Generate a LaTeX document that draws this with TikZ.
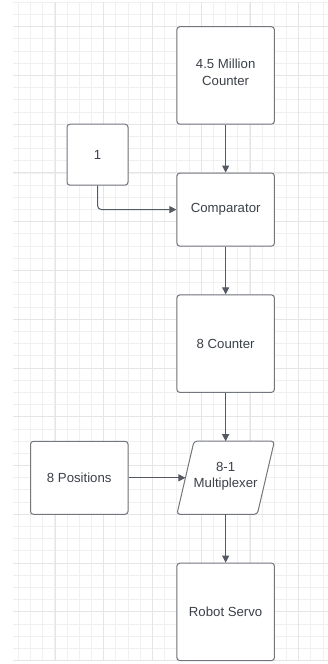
\documentclass[tikz,border=0pt]{standalone}
\usepackage{fontspec}
\setmainfont{Liberation Sans}
\usetikzlibrary{arrows.meta}

\definecolor{gridminor}{HTML}{F0F0F0}
\definecolor{gridmajor}{HTML}{E5E5E5}
\definecolor{boxline}{HTML}{72767D}
\definecolor{wire}{HTML}{555A62}
\definecolor{label}{HTML}{3B4048}

\tikzset{
  block/.style={draw=boxline, line width=1pt, rounded corners=3pt, fill=white,
    minimum width=97.5pt, minimum height=97.5pt, inner sep=2pt,
    align=center, text=label, font=\fontsize{13.2}{16.5}\selectfont},
  wirearrow/.style={draw=wire, line width=1pt,
    -{Triangle[length=7pt,width=7pt]}},
  gridline/.style={draw=gridminor, line width=0.9pt},
  gridbold/.style={draw=gridmajor, line width=1pt}
}

\begin{document}
\begin{tikzpicture}[x=1pt,y=-1pt]
  \useasboundingbox (0,0) rectangle (328,664);
  \fill[white] (0,0) rectangle (328,664);

  % background grid: 12.19pt cells, darker line every 4 cells
  \begin{scope}
    \clip (13,2.3) rectangle (328,660.6);
    \foreach \k in {0,...,25}
      \draw[gridline] ({18.3+12.19*\k},0) -- ({18.3+12.19*\k},664);
    \foreach \k in {-2,...,52}
      \draw[gridline] (0,{26.7+12.19*\k}) -- (328,{26.7+12.19*\k});
    \foreach \k in {0,...,6}
      \draw[gridbold] ({55+48.76*\k},0) -- ({55+48.76*\k},664);
    \foreach \k in {0,...,13}
      \draw[gridbold] (0,{26.7+48.76*\k}) -- (328,{26.7+48.76*\k});
  \end{scope}

  % blocks
  \node[block] (mcount) at (225.65,75.45) {};
  \node[align=center, text=label, font=\fontsize{13.2}{16.5}\selectfont, inner sep=0pt]
    (mcounttext) at (225.65,72.5) {4.5 Million\\Counter};
  \node[block, minimum width=61pt, minimum height=61pt] (one) at (97.5,154.7) {1};
  \node[block, minimum height=73.1pt] (cmp) at (225.65,209.6) {Comparator};
  \node[block] (ecount) at (225.65,343.65) {8 Counter};
  \node[block, minimum height=73.1pt] (pos) at (79.25,477.8) {8 Positions};
  \node[block] (servo) at (225.65,611.85) {Robot Servo};

  % multiplexer (parallelogram)
  \coordinate (mtl) at (194,441.2);
  \coordinate (mtr) at (274.4,441.2);
  \coordinate (mbr) at (257.3,514.3);
  \coordinate (mbl) at (176.9,514.3);
  \draw[boxline, line width=1pt, rounded corners=3pt, fill=white]
    (mtl) -- (mtr) -- (mbr) -- (mbl) -- cycle;
  \node[align=center, text=label, font=\fontsize{13.2}{16.5}\selectfont, inner sep=0pt]
    (mux) at (225.65,476.5) {8-1\\Multiplexer};
  \coordinate (mux-n) at (225.65,441.2);
  \coordinate (mux-s) at (225.65,514.3);
  \coordinate (mux-w) at (185.45,477.8);

  % connections
  \draw[wirearrow] (mcount.south) -- (cmp.north);
  \draw[wirearrow, rounded corners=4pt] (one.south) |- (cmp.west);
  \draw[wirearrow] (cmp.south) -- (ecount.north);
  \draw[wirearrow] (ecount.south) -- (mux-n);
  \draw[wirearrow] (pos.east) -- (mux-w);
  \draw[wirearrow] (mux-s) -- (servo.north);
\end{tikzpicture}
\end{document}
